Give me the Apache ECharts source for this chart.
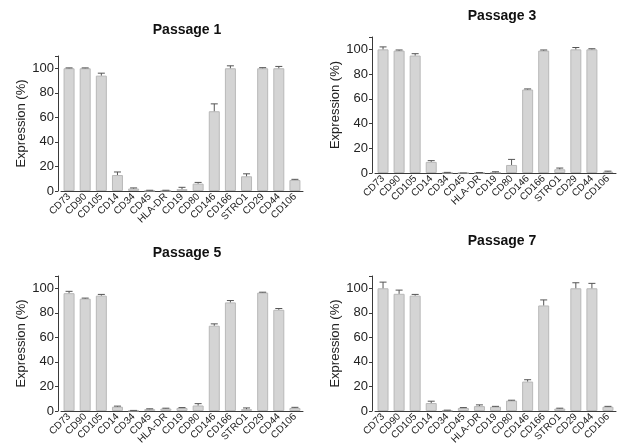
<!DOCTYPE html>
<html>
<head>
<meta charset="utf-8">
<script src="https://cdn.jsdelivr.net/npm/echarts@6/dist/echarts.min.js"></script>
<style>
html,body{margin:0;padding:0;background:#fff;}
#c{width:628px;height:447px;}
</style>
</head>
<body>
<div id="c"></div>
<script>
const categories = ['CD73','CD90','CD105','CD14','CD34','CD45','HLA-DR','CD19','CD80','CD146','CD166','STRO1','CD29','CD44','CD106'];
const yTicks = [0,20,40,60,80,100];
const titles = ['Passage 1','Passage 3','Passage 5','Passage 7'];

const p1Values = [100,100,94,13,2,0.3,0.3,1.5,6,65,100,12,100,100,9];
const p1Errors = [0.3,0.3,2,2.5,0.5,0.3,0.3,1.5,1,6,2,2,0.5,1.5,0.5];
const p3Values = [100,99,95,9,0.2,0,0.2,0.5,6.5,67.5,99,3,100,100,1];
const p3Errors = [2,0.5,1.5,1,0.3,0,0.2,0.5,4.5,0.5,0.5,1,1.5,0.5,0.5];
const p5Values = [96,91.5,94,3.5,0.3,1.5,2,2.5,4.5,69.5,88.5,1.5,96.5,82.5,2.5];
const p5Errors = [1.5,0.5,1,0.5,0.2,0.3,0.3,0.3,1.5,1.5,1.5,1,0.3,1,0.5];
const p7Values = [100,95.5,94,6.5,0.5,2.5,4,3.5,8.5,24,86,2,100,100,3.5];
const p7Errors = [5,3,1,1.5,0.2,0.3,1,0.3,0.3,1.5,4.5,0.3,4.5,4,0.3];

const panels = [
  {v:p1Values,e:p1Errors,grid:{left:61,top:56,width:242,height:135},title:{left:182,top:25}},
  {v:p3Values,e:p3Errors,grid:{left:375,top:37,width:241,height:136},title:{left:497,top:11}},
  {v:p5Values,e:p5Errors,grid:{left:61,top:276,width:242,height:136},title:{left:182,top:248}},
  {v:p7Values,e:p7Errors,grid:{left:375,top:276,width:241,height:136},title:{left:497,top:236}}
];

const chart = echarts.init(document.getElementById('c'), null, {renderer:'canvas'});
const option = {
  animation:false,
  backgroundColor:'#fff',
  title:[], grid:[], xAxis:[], yAxis:[], series:[]
};
const axisColor = '#3a3a3a';
panels.forEach((p,i)=>{
  option.title.push({text:titles[i],left:p.title.left,top:p.title.top,textAlign:'center',textVerticalAlign:'middle',
    textStyle:{fontFamily:'Liberation Sans, Arial',fontWeight:'bold',fontSize:14,color:'#111'}});
  option.grid.push(p.grid);
  option.xAxis.push({type:'category',gridIndex:i,data:categories,boundaryGap:true,
    axisLine:{lineStyle:{color:axisColor,width:1}},
    axisTick:{alignWithLabel:true,length:3,lineStyle:{color:axisColor}},
    axisLabel:{rotate:45,fontSize:10,fontFamily:'Liberation Sans, Arial',color:'#222',margin:4,interval:0}
  });
  option.yAxis.push({type:'value',gridIndex:i,min:0,max:110,interval:20,offset:3,
    name:'Expression (%)',nameLocation:'middle',nameGap:30,nameRotate:90,
    nameTextStyle:{fontSize:13,fontFamily:'Liberation Sans, Arial',color:'#222'},
    axisLine:{show:true,lineStyle:{color:axisColor,width:1}},
    axisTick:{show:true,length:3,lineStyle:{color:axisColor}},
    splitLine:{show:false},
    axisLabel:{fontSize:13,fontFamily:'Liberation Sans, Arial',color:'#222',margin:4,
      formatter:(val)=>yTicks.indexOf(val)>=0?String(val):''}
  });
  option.series.push({type:'bar',xAxisIndex:i,yAxisIndex:i,data:p.v,barWidth:11,
    itemStyle:{color:'#d4d4d4',borderColor:'#b8b8b8',borderWidth:1}});
  option.series.push({type:'custom',xAxisIndex:i,yAxisIndex:i,z:5,
    data:p.v.map((v,k)=>[k,v,p.e[k]]),
    renderItem:(params,api)=>{
      const x=api.value(0), v=api.value(1), e=api.value(2);
      const top=api.coord([x,v]);
      const hi=api.coord([x,v+e]);
      const hw=3.5;
      return {type:'group',children:[
        {type:'line',shape:{x1:top[0],y1:top[1],x2:hi[0],y2:hi[1]},style:{stroke:'#555',lineWidth:1}},
        {type:'line',shape:{x1:hi[0]-hw,y1:hi[1],x2:hi[0]+hw,y2:hi[1]},style:{stroke:'#555',lineWidth:1}}
      ]};
    }
  });
});
chart.setOption(option);
</script>
</body>
</html>
